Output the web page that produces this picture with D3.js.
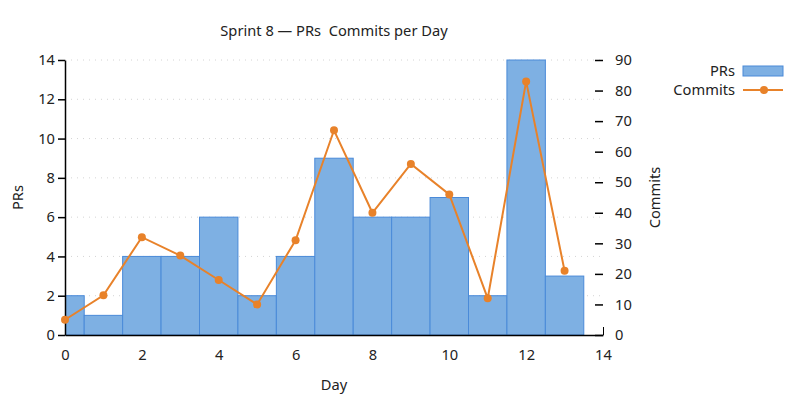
<!DOCTYPE html>
<html>
<head>
<meta charset="utf-8">
<script src="https://cdn.jsdelivr.net/npm/d3@7"></script>
<style>
  body { margin: 0; background: #fff; }
  text { font-family: "Noto Sans", "Open Sans", sans-serif; fill: #222; }
</style>
</head>
<body>
<div id="chart"></div>
<script>
// data
const days = [0, 1, 2, 3, 4, 5, 6, 7, 8, 9, 10, 11, 12, 13];
const prs = [2, 1, 4, 4, 6, 2, 4, 9, 6, 6, 7, 2, 14, 3];
const commits = [5, 13, 32, 26, 18, 10, 31, 67, 40, 56, 46, 12, 83, 21];
const xTicks = [0, 2, 4, 6, 8, 10, 12, 14];
const leftTicks = [0, 2, 4, 6, 8, 10, 12, 14];
const rightTicks = [0, 10, 20, 30, 40, 50, 60, 70, 80, 90];

const W = 800, H = 400;
const plot = { left: 65, right: 603, top: 60, bottom: 335 };
const fs = 14.67; // 11pt

const barFill = "#7eb0e3", barStroke = "#4a8ad8", lineColor = "#e8822a";

const svg = d3.select("#chart")
    .append("svg")
    .attr("width", W)
    .attr("height", H);

const x = d3.scaleLinear().domain([0, 14]).range([plot.left, plot.right]);
const y = d3.scaleLinear().domain([0, 14]).range([plot.bottom, plot.top]);
const y2 = d3.scaleLinear().domain([0, 90]).range([plot.bottom, plot.top]);

// clip for bars
svg.append("clipPath").attr("id", "plotclip")
    .append("rect")
    .attr("x", plot.left).attr("y", plot.top - 1)
    .attr("width", plot.right - plot.left).attr("height", plot.bottom - plot.top + 2);

// dotted grid
svg.append("g")
    .selectAll("line")
    .data(leftTicks.filter(d => d > 0))
    .enter().append("line")
    .attr("x1", plot.left).attr("x2", plot.right)
    .attr("y1", d => y(d)).attr("y2", d => y(d))
    .attr("stroke", "#d4d4d4")
    .attr("stroke-width", 1)
    .attr("stroke-dasharray", "1,5");

// x ticks point inwards (mostly hidden by the bars)
svg.append("g")
    .attr("transform", `translate(0, ${plot.bottom})`)
    .call(d3.axisTop(x).tickValues(xTicks).tickSize(8).tickFormat(""))
    .call(g => g.select(".domain").remove())
    .call(g => g.selectAll("line").attr("stroke", "#000"));

// bars, one day wide
svg.append("g")
    .attr("clip-path", "url(#plotclip)")
    .selectAll("rect")
    .data(prs)
    .enter().append("rect")
    .attr("x", (d, i) => x(days[i] - 0.5))
    .attr("y", d => y(d))
    .attr("width", x(1) - x(0))
    .attr("height", d => y(0) - y(d))
    .attr("fill", barFill)
    .attr("stroke", barStroke)
    .attr("stroke-width", 1);

// x axis
const xAxis = svg.append("g")
    .attr("transform", `translate(0, ${plot.bottom})`)
    .call(d3.axisBottom(x).tickValues(xTicks).tickSize(0).tickPadding(15));
xAxis.select(".domain").attr("stroke", "#000").attr("stroke-width", 1.5);
xAxis.selectAll("text").attr("font-size", fs).attr("fill", "#222")
    .attr("font-family", "Noto Sans");

// left axis
const yAxis = svg.append("g")
    .attr("transform", `translate(${plot.left}, 0)`)
    .call(d3.axisLeft(y).tickValues(leftTicks).tickSize(7).tickPadding(3).tickSizeOuter(0));
yAxis.select(".domain").attr("stroke", "#000").attr("stroke-width", 1.5);
yAxis.selectAll("line").attr("stroke", "#000").attr("stroke-width", 1.5);
yAxis.selectAll("text").attr("font-size", fs).attr("fill", "#222")
    .attr("font-family", "Noto Sans");

// right axis: ticks only, no line
const y2Axis = svg.append("g")
    .attr("transform", `translate(${plot.right}, 0)`)
    .call(d3.axisRight(y2).tickValues(rightTicks).tickSize(0).tickPadding(12));
y2Axis.select(".domain").remove();
y2Axis.selectAll("text").attr("font-size", fs).attr("fill", "#222")
    .attr("font-family", "Noto Sans");
y2Axis.selectAll(".tick")
    .append("line")
    .attr("x1", -8).attr("x2", 0)
    .attr("stroke", "#000").attr("stroke-width", 1.5);

// commits line
const line = d3.line()
    .x((d, i) => x(days[i]))
    .y(d => y2(d));
svg.append("path")
    .datum(commits)
    .attr("d", line)
    .attr("fill", "none")
    .attr("stroke", lineColor)
    .attr("stroke-width", 2);
svg.append("g")
    .selectAll("circle")
    .data(commits)
    .enter().append("circle")
    .attr("cx", (d, i) => x(days[i]))
    .attr("cy", d => y2(d))
    .attr("r", 4)
    .attr("fill", lineColor);

// title and axis labels
svg.append("text")
    .attr("x", (plot.left + plot.right) / 2).attr("y", 36)
    .attr("text-anchor", "middle")
    .attr("font-size", fs)
    .style("white-space", "pre")
    .text("Sprint 8 — PRs  Commits per Day");

svg.append("text")
    .attr("x", (plot.left + plot.right) / 2).attr("y", 390)
    .attr("text-anchor", "middle")
    .attr("font-size", fs)
    .text("Day");

svg.append("text")
    .attr("transform", `translate(23, ${(plot.top + plot.bottom) / 2}) rotate(-90)`)
    .attr("text-anchor", "middle")
    .attr("font-size", fs)
    .text("PRs");

svg.append("text")
    .attr("transform", `translate(660, ${(plot.top + plot.bottom) / 2}) rotate(-90)`)
    .attr("text-anchor", "middle")
    .attr("font-size", fs)
    .text("Commits");

// legend
const legend = svg.append("g");
legend.append("text")
    .attr("x", 735).attr("y", 76)
    .attr("text-anchor", "end")
    .attr("font-size", fs)
    .text("PRs");
legend.append("rect")
    .attr("x", 743).attr("y", 66)
    .attr("width", 40).attr("height", 10)
    .attr("fill", barFill)
    .attr("stroke", barStroke);
legend.append("text")
    .attr("x", 735).attr("y", 95)
    .attr("text-anchor", "end")
    .attr("font-size", fs)
    .text("Commits");
legend.append("line")
    .attr("x1", 743).attr("x2", 783)
    .attr("y1", 90).attr("y2", 90)
    .attr("stroke", lineColor)
    .attr("stroke-width", 2);
legend.append("circle")
    .attr("cx", 764).attr("cy", 90).attr("r", 4)
    .attr("fill", lineColor);
</script>
</body>
</html>
